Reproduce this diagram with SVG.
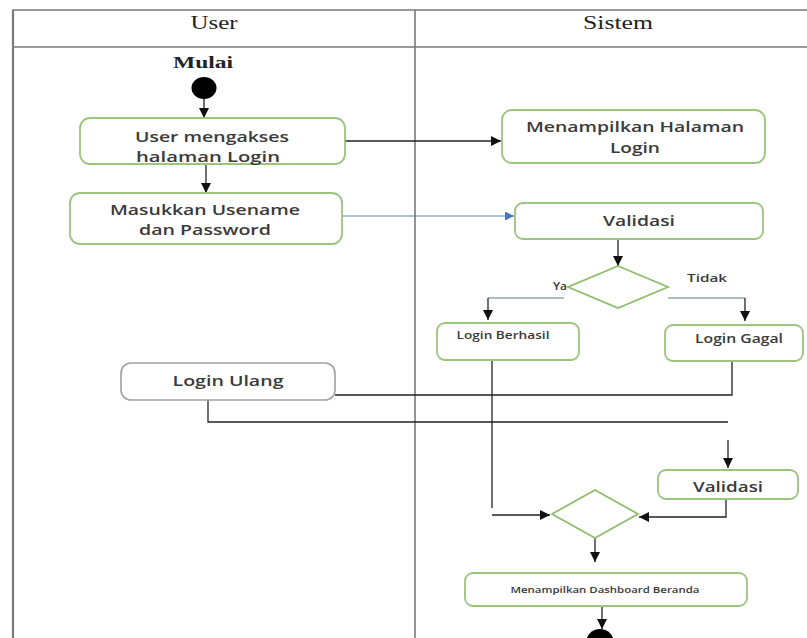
<svg xmlns="http://www.w3.org/2000/svg" width="807" height="638" viewBox="0 0 807 638">
<style>
.frame{stroke:#7a7a7a;stroke-width:1.6;fill:none}
.node{fill:#fff;stroke:#9cc47f;stroke-width:1.8}
.gnode{fill:#fff;stroke:#a0a0a0;stroke-width:1.6}
.dia{fill:#fff;stroke:#8fbd6a;stroke-width:1.8}
.lbl{font-family:"Open Sans",Lato,"Liberation Sans",sans-serif;font-weight:600;fill:#3a3a3a;text-anchor:middle}
.hdr{font-family:"Liberation Serif",serif;fill:#222;text-anchor:middle}
.c{stroke:#222;stroke-width:1.3;fill:none}
.ca{stroke:#222;stroke-width:1.3;fill:none;marker-end:url(#ah)}
.cb{stroke:#5a80b8;stroke-width:1.2;fill:none;marker-end:url(#ahb)}
.cg{stroke:#8ea4bd;stroke-width:1.3;fill:none}
</style>
<defs>
<marker id="ah" viewBox="0 0 10 10" refX="10" refY="5" markerWidth="10" markerHeight="10" markerUnits="userSpaceOnUse" orient="auto"><path d="M0,0 L10,5 L0,10 z" fill="#111"/></marker>
<marker id="ahb" viewBox="0 0 10 10" refX="10" refY="5" markerWidth="10" markerHeight="9" markerUnits="userSpaceOnUse" orient="auto"><path d="M0,0 L10,5 L0,10 z" fill="#4a78b8"/></marker>
</defs>
<rect width="807" height="638" fill="#fff"/>
<g id="swimlanes">
<path class="frame" d="M13,638 V10 H807 M13,47 H807 M415,10 V638"/>
<path d="M13,10 V638" stroke="#7a7a7a" stroke-width="2.2"/>
<text class="hdr" x="214" y="29" font-size="18" textLength="47" lengthAdjust="spacingAndGlyphs">User</text>
<text class="hdr" x="618" y="29" font-size="18" textLength="70" lengthAdjust="spacingAndGlyphs">Sistem</text>
</g>
<g id="connectors">
<line class="ca" x1="204" y1="98" x2="204" y2="118"/>
<line class="ca" x1="206" y1="164" x2="206" y2="193"/>
<line class="ca" x1="345" y1="141" x2="501" y2="141"/>
<line class="cb" x1="342" y1="216" x2="514" y2="216"/>
<line class="ca" x1="618" y1="240" x2="618" y2="266"/>
<line class="cg" x1="564" y1="298" x2="488" y2="298"/>
<line class="ca" x1="488" y1="298" x2="488" y2="320"/>
<line class="cg" x1="668" y1="298" x2="745" y2="298"/>
<line class="ca" x1="745" y1="298" x2="745" y2="321"/>
<polyline class="c" points="732,361 732,395 335,395"/>
<polyline class="c" points="208,400 208,422 728,422"/>
<line class="ca" x1="728" y1="440" x2="728" y2="468"/>
<polyline class="ca" points="726,499 726,517 639,517"/>
<line class="c" x1="492" y1="360" x2="492" y2="508"/>
<line class="ca" x1="492" y1="515" x2="550" y2="515"/>
<line class="ca" x1="595" y1="538" x2="595" y2="562"/>
<line class="ca" x1="602" y1="606" x2="602" y2="629"/>
</g>
<g id="start">
<text class="hdr" x="203" y="68" font-size="17" font-weight="700" textLength="60" lengthAdjust="spacingAndGlyphs">Mulai</text>
<ellipse cx="204" cy="88" rx="12.5" ry="11" fill="#000"/>
</g>
<g id="user-akses">
<rect class="node" x="80" y="118" width="265" height="46" rx="10"/>
<text class="lbl" x="212" y="142" font-size="15" textLength="154" lengthAdjust="spacingAndGlyphs">User mengakses</text>
<text class="lbl" x="208" y="162" font-size="15" textLength="144" lengthAdjust="spacingAndGlyphs">halaman Login</text>
</g>
<g id="masukkan">
<rect class="node" x="70" y="193" width="272" height="51" rx="10"/>
<text class="lbl" x="205" y="215" font-size="15" textLength="190" lengthAdjust="spacingAndGlyphs">Masukkan Usename</text>
<text class="lbl" x="205" y="235" font-size="15" textLength="132" lengthAdjust="spacingAndGlyphs">dan Password</text>
</g>
<g id="tampil-login">
<rect class="node" x="502" y="110" width="263" height="53" rx="10"/>
<text class="lbl" x="635" y="132" font-size="15" textLength="218" lengthAdjust="spacingAndGlyphs">Menampilkan Halaman</text>
<text class="lbl" x="635" y="153" font-size="15" textLength="50" lengthAdjust="spacingAndGlyphs">Login</text>
</g>
<g id="validasi1">
<rect class="node" x="515" y="203" width="248" height="36" rx="8"/>
<text class="lbl" x="639" y="226" font-size="15" textLength="72" lengthAdjust="spacingAndGlyphs">Validasi</text>
</g>
<g id="keputusan1">
<polygon class="dia" points="618,266 668,287 618,308 568,287"/>
<text class="lbl" x="560" y="290" font-size="10" textLength="14" lengthAdjust="spacingAndGlyphs">Ya</text>
<text class="lbl" x="707" y="282" font-size="11" textLength="40" lengthAdjust="spacingAndGlyphs">Tidak</text>
</g>
<g id="berhasil">
<rect class="node" x="437" y="323" width="142" height="37" rx="8"/>
<text class="lbl" x="503" y="339" font-size="11" textLength="93" lengthAdjust="spacingAndGlyphs">Login Berhasil</text>
</g>
<g id="gagal">
<rect class="node" x="665" y="325" width="138" height="36" rx="8"/>
<text class="lbl" x="739" y="343" font-size="13" textLength="88" lengthAdjust="spacingAndGlyphs">Login Gagal</text>
</g>
<g id="ulang">
<rect class="gnode" x="121" y="363" width="214" height="37" rx="10"/>
<text class="lbl" x="228" y="386" font-size="15" textLength="111" lengthAdjust="spacingAndGlyphs">Login Ulang</text>
</g>
<g id="validasi2">
<rect class="node" x="658" y="470" width="140" height="29" rx="8"/>
<text class="lbl" x="728" y="492" font-size="15" textLength="70" lengthAdjust="spacingAndGlyphs">Validasi</text>
</g>
<g id="keputusan2">
<polygon class="dia" points="595,490 638,514 595,538 552,514"/>
</g>
<g id="dashboard">
<rect class="node" x="465" y="573" width="282" height="33" rx="8"/>
<text class="lbl" x="605" y="593" font-size="9" font-weight="500" textLength="189" lengthAdjust="spacingAndGlyphs">Menampilkan Dashboard Beranda</text>
</g>
<g id="end">
<circle cx="600" cy="643" r="14" fill="#000"/>
</g>
</svg>
